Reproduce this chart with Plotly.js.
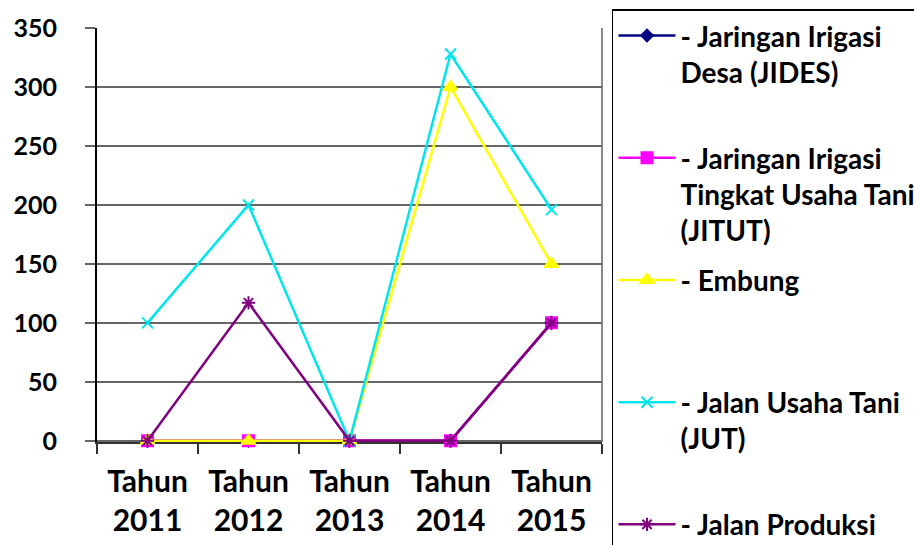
<!DOCTYPE html>
<html>
<head>
<meta charset="utf-8">
<script src="https://cdn.plot.ly/plotly-3.0.1.min.js"></script>
<style>html,body{margin:0;padding:0;background:#fff;}#chart{width:914px;height:545px;}</style>
</head>
<body>
<div id="chart"></div>
<script>
const categories = ["Tahun<br>2011", "Tahun<br>2012", "Tahun<br>2013", "Tahun<br>2014", "Tahun<br>2015"];
const seriesNames = [
  "- Jaringan Irigasi<br>Desa (JIDES)<br> ",
  "- Jaringan Irigasi<br>Tingkat Usaha Tani<br>(JITUT)",
  "- Embung<br> <br> ",
  "- Jalan Usaha Tani<br>(JUT)<br> ",
  "- Jalan Produksi"
];
const jides = [0, 0, 0, 0, 100];
const jitut = [0, 0, 0, 0, 100];
const embung = [0, 0, 0, 300, 150];
const jut = [100, 200, 0, 328, 196];
const jalanProduksi = [0, 117, 0, 0, 100];
const yTicks = [0, 50, 100, 150, 200, 250, 300, 350];

const FONT = "Lato, 'Liberation Sans', sans-serif";
const styles = [
  {color: "#000080", symbol: "diamond", size: 9},
  {color: "#FF00FF", symbol: "square", size: 11},
  {color: "#FFFF00", symbol: "triangle-up", size: 12},
  {color: "#00E5EE", symbol: "x-thin-open", size: 11},
  {color: "#800080", symbol: "asterisk-open", size: 11}
];
const values = [jides, jitut, embung, jut, jalanProduksi];

const traces = values.map((v, i) => ({
  type: "scatter",
  mode: "lines+markers",
  x: categories,
  y: v,
  name: seriesNames[i],
  legendgroup: "g" + i,
  line: {color: styles[i].color, width: 2.5},
  marker: {color: styles[i].color, symbol: styles[i].symbol, size: styles[i].size,
           line: {color: styles[i].color, width: 2}},
  cliponaxis: false
}));

const layout = {
  width: 914, height: 545,
  margin: {l: 97, r: 312, t: 28, b: 103, autoexpand: false},
  paper_bgcolor: "#fff", plot_bgcolor: "#fff",
  font: {family: FONT, size: 28, color: "#000", weight: "bold"},
  showlegend: true,
  legend: {
    x: 1.0198, y: 1.045, xanchor: "left", yanchor: "top",
    bordercolor: "#000", borderwidth: 1.5, bgcolor: "#fff",
    font: {family: FONT, size: 28, color: "#000", weight: "bold"},
    valign: "top", tracegroupgap: 10, traceorder: "grouped",
    itemwidth: 57, maxheight: 1000
  },
  xaxis: {
    type: "category", range: [-0.5, 4.5],
    tickson: "boundaries", ticks: "outside", ticklen: 10, tickwidth: 1.5, tickcolor: "#333",
    showline: true, linecolor: "#333", linewidth: 1.5,
    showgrid: false, zeroline: false, layer: "below traces",
    tickfont: {family: FONT, size: 30, color: "#000", weight: "bold"},
    ticklabelstandoff: 12, fixedrange: true
  },
  yaxis: {
    range: [-1, 350], tickvals: yTicks, ticktext: yTicks.map(String),
    ticks: "outside", ticklen: 10, tickwidth: 1.5, tickcolor: "#666",
    showline: true, linecolor: "#000", linewidth: 2,
    showgrid: true, gridcolor: "#666", gridwidth: 1.5,
    zeroline: false, layer: "below traces",
    tickfont: {family: FONT, size: 25, color: "#000", weight: "bold"},
    ticklabelstandoff: 23, fixedrange: true
  },
  shapes: [
    {type: "line", xref: "paper", yref: "paper", x0: 1, x1: 1, y0: 0, y1: 1,
     line: {color: "#888", width: 2}, layer: "below"}
  ]
};

Plotly.newPlot("chart", traces, layout, {displayModeBar: false, staticPlot: true});
</script>
</body>
</html>
